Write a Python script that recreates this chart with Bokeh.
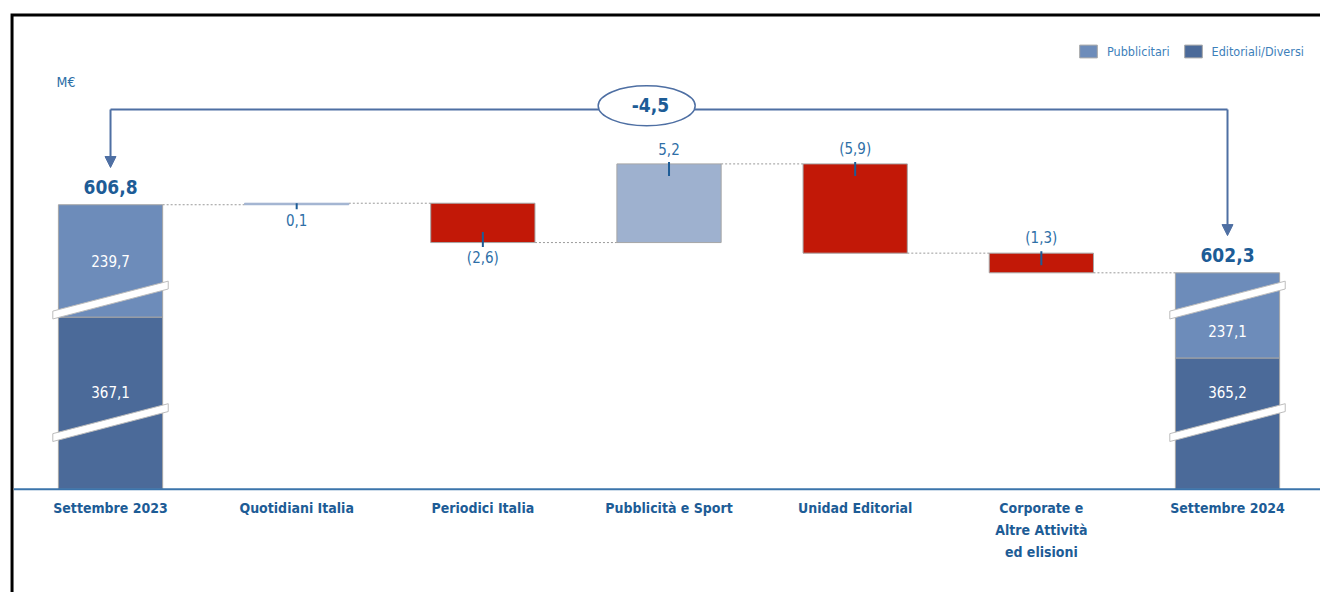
from bokeh.plotting import figure
from bokeh.models import Range1d, Legend, LegendItem, Arrow, NormalHead
from bokeh.core.properties import value
from bokeh.embed import file_html
from bokeh.resources import INLINE

# ---------------- data ----------------
categories = ["Settembre 2023", "Quotidiani Italia", "Periodici Italia",
              "Pubblicità e Sport", "Unidad Editorial",
              "Corporate e\nAltre Attività\ned elisioni", "Settembre 2024"]
start_pubblicitari = 239.7
start_editoriali = 367.1
end_pubblicitari = 237.1
end_editoriali = 365.2
deltas = [0.1, -2.6, 5.2, -5.9, -1.3]
legend_labels = ["Pubblicitari", "Editoriali/Diversi"]
unit_label = "M€"

# ---------------- styles / layout ----------------
FONT = "DejaVu Sans Condensed"
C_PUB = "#6d8cba"
C_EDI = "#4b6a99"
C_POS = "#9eb1cf"
C_NEG = "#c21807"
C_EDGE = "#a6a6a6"
C_DARK = "#1d5c96"
C_VAL = "#2e6fa7"
C_ARROW = "#4e6fa3"
C_AXIS = "#3b74ab"
BAR_W = 0.56
axis_floor = 588.0          # display floor of the broken axis
break_levels = [600.5, 592.4]
break_half_w = 0.31
break_rise = 1.98
break_t = 0.26
label_side = ["below", "below", "above", "above", "above"]
arrow_y = 613.09
ellipse_x = 2.88

def fmt(v, paren=True):
    s = f"{abs(v):.1f}".replace(".", ",")
    if v < 0:
        return f"({s})" if paren else "-" + s
    return s

start_total = start_pubblicitari + start_editoriali
end_total = end_pubblicitari + end_editoriali
change = end_total - start_total

p = figure(width=1320, height=592, output_backend="svg", toolbar_location=None,
           x_range=Range1d(-0.591, 6.4995), y_range=Range1d(581.17, 620.30),
           min_border=0, min_border_left=0, min_border_right=0,
           min_border_top=0, min_border_bottom=0)
p.axis.visible = False
p.grid.visible = False
p.outline_line_color = None
p.background_fill_color = "white"
p.border_fill_color = "white"

# frame (top and left black border)
x_left = -0.529
y_top = 619.34
p.line([x_left, x_left, p.x_range.end], [p.y_range.start, y_top, y_top],
       line_color="black", line_width=3, line_join="miter")

# waterfall levels
levels = [start_total]
bottoms, tops = [], []
for d in deltas:
    lv = levels[-1]
    bottoms.append(min(lv, lv + d))
    tops.append(max(lv, lv + d))
    levels.append(lv + d)

n = len(categories)
total_x = [0, n - 1]
delta_x = list(range(1, n - 1))

# connectors
cx0, cx1, cy = [], [], []
for i in range(n - 1):
    cx0.append(i + BAR_W / 2)
    cx1.append(i + 1 - BAR_W / 2)
    cy.append(levels[i])
p.segment(x0=cx0, y0=cy, x1=cx1, y1=cy, line_color="#9a9a9a", line_width=1, line_dash="2 2")

# totals
totals = [start_total, end_total]
editoriali = [start_editoriali, end_editoriali]
pubblicitari = [start_pubblicitari, end_pubblicitari]
splits = [axis_floor + (t - axis_floor) * e / t for t, e in zip(totals, editoriali)]
r_edi = p.vbar(x=total_x, width=BAR_W, bottom=axis_floor, top=splits,
               fill_color=C_EDI, line_color=C_EDGE, line_width=1)
r_pub = p.vbar(x=total_x, width=BAR_W, bottom=splits, top=totals,
               fill_color=C_PUB, line_color=C_EDGE, line_width=1)

# deltas
dcolors = [C_POS if d > 0 else C_NEG for d in deltas]
p.vbar(x=delta_x, width=BAR_W, bottom=bottoms, top=tops,
       fill_color=dcolors, line_color=[C_POS if d > 0 and abs(d) < 0.5 else C_EDGE for d in deltas],
       line_width=1)

# break marks
bx, by = [], []
for xc in total_x:
    for lvl in break_levels:
        xl, xr = xc - break_half_w, xc + break_half_w
        yl, yr = lvl - break_rise / 2, lvl + break_rise / 2
        bx.append([xl, xr, xr, xl])
        by.append([yl - break_t, yr - break_t, yr + break_t, yl + break_t])
p.patches(bx, by, fill_color="white", line_color="#bdbdbd", line_width=1)

# delta ticks and labels
tx, ty0, ty1, lx, ly, lt = [], [], [], [], [], []
for x, d, b, t, side in zip(delta_x, deltas, bottoms, tops, label_side):
    h = t - b
    tx.append(x)
    if side == "above":
        ty0.append(t + 0.13)
        ty1.append(t - min(0.8, h))
        ly.append(t + 1.0)
    else:
        ty0.append(b + min(0.7, h))
        ty1.append(b - 0.3)
        ly.append(b - 1.0)
    lx.append(x)
    lt.append(fmt(d))
p.segment(x0=tx, y0=ty0, x1=tx, y1=ty1, line_color=C_DARK, line_width=2)
p.text(x=lx, y=ly, text=lt, text_font=value(FONT), text_font_size="15px",
       text_color=C_VAL, text_align="center", text_baseline="middle")

# total labels
p.text(x=total_x, y=[t + 1.17 for t in totals], text=[fmt(t) for t in totals],
       text_font=value(FONT), text_font_size="19px", text_font_style="bold",
       text_color=C_DARK, text_align="center", text_baseline="middle")

# inner white labels
top_lab_y = []
for t, s in zip(totals, splits):
    mid = (t + s) / 2
    if abs(mid - break_levels[0]) < 1.7:
        mid = (s + break_levels[0] - break_t) / 2
    top_lab_y.append(mid)
p.text(x=total_x, y=top_lab_y, text=[fmt(v) for v in pubblicitari],
       text_font=value(FONT), text_font_size="15px", text_color="white",
       text_align="center", text_baseline="middle")
p.text(x=total_x, y=[break_levels[1] + 2.0] * 2, text=[fmt(v) for v in editoriali],
       text_font=value(FONT), text_font_size="15px", text_color="white",
       text_align="center", text_baseline="middle")

# arrows
p.line([total_x[0], total_x[1]], [arrow_y, arrow_y], line_color=C_ARROW, line_width=2)
for x, t in zip(total_x, totals):
    p.add_layout(Arrow(x_start=x, y_start=arrow_y, x_end=x, y_end=t + 2.46,
                       line_color=C_ARROW, line_width=2,
                       end=NormalHead(size=11, fill_color=C_ARROW, line_color=C_ARROW)))
p.ellipse(x=[ellipse_x], y=[arrow_y + 0.25], width=0.521, height=2.64,
          fill_color="white", line_color=C_ARROW, line_width=1.5)
p.text(x=[ellipse_x + 0.02], y=[arrow_y + 0.3], text=[fmt(change, paren=False)],
       text_font=value(FONT), text_font_size="19px", text_font_style="bold",
       text_color=C_DARK, text_align="center", text_baseline="middle")

# unit label
p.text(x=[-0.29], y=[614.9], text=[unit_label], text_font=value(FONT),
       text_font_size="14px", text_color=C_VAL, text_align="left", text_baseline="middle")

# baseline (category axis line)
p.segment(x0=[x_left + 0.01], y0=[axis_floor], x1=[p.x_range.end], y1=[axis_floor],
          line_color=C_AXIS, line_width=2)

# category labels
p.text(x=list(range(n)), y=axis_floor - 0.7, text=categories, text_font=value(FONT),
       text_font_size="14px", text_font_style="bold", text_color=C_DARK,
       text_align="center", text_baseline="top", text_line_height=1.37)

# legend
legend = Legend(items=[LegendItem(label=legend_labels[0], renderers=[r_pub]),
                       LegendItem(label=legend_labels[1], renderers=[r_edi])],
                orientation="horizontal", location=(1077, 533),
                glyph_width=22, glyph_height=16, label_height=16, label_standoff=8,
                spacing=12, padding=0, margin=0,
                label_text_font=FONT, label_text_font_size="12.5px",
                label_text_color="#3d80ba",
                border_line_alpha=0, background_fill_alpha=0)
p.add_layout(legend)

open("out.html", "w").write(file_html(p, INLINE))
